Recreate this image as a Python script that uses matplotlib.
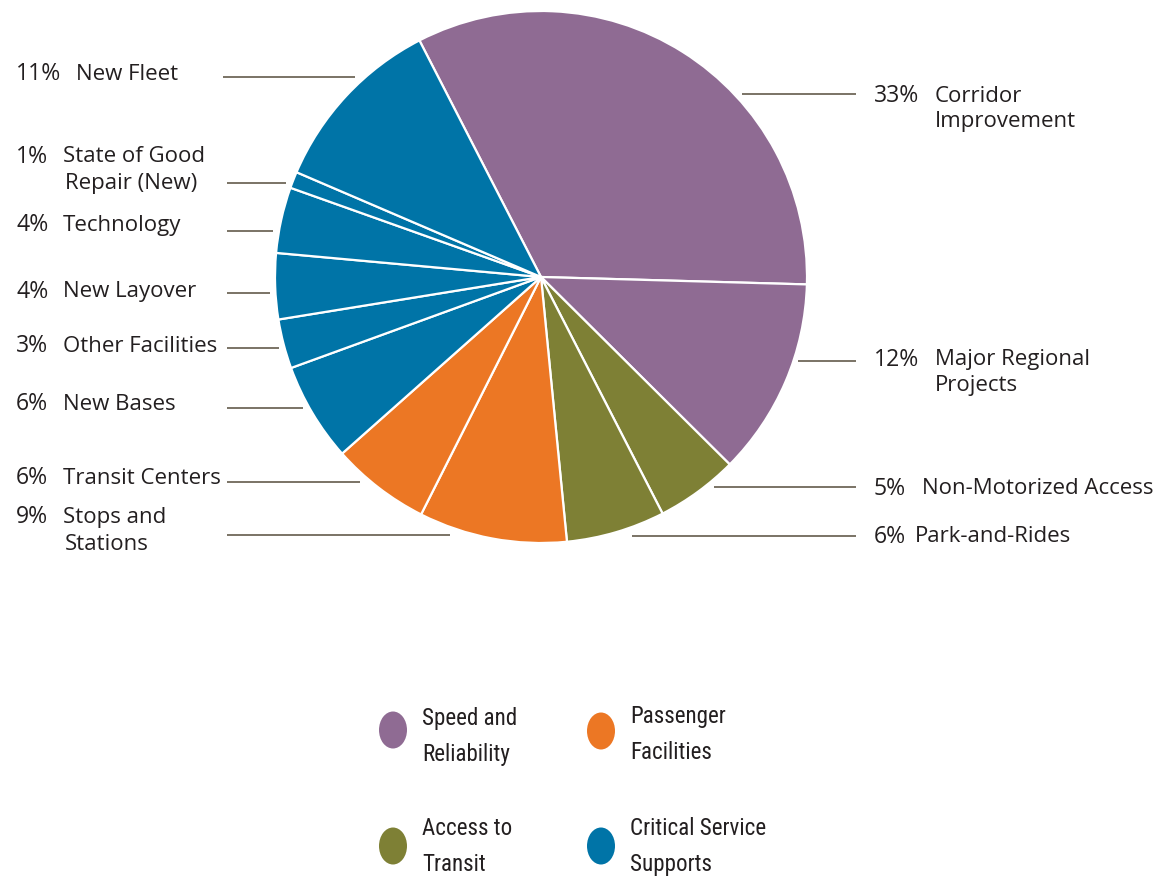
import matplotlib
matplotlib.use("Agg")
import matplotlib.pyplot as plt
from matplotlib.patches import Ellipse
from matplotlib import font_manager

# ---------------- data ----------------
categories = ["Corridor Improvement", "Major Regional Projects", "Non-Motorized Access",
              "Park-and-Rides", "Stops and Stations", "Transit Centers", "New Bases",
              "Other Facilities", "New Layover", "Technology",
              "State of Good Repair (New)", "New Fleet"]
shares = [33, 12, 5, 6, 9, 6, 6, 3, 4, 4, 1, 11]
category_group = ["Speed and Reliability", "Speed and Reliability", "Access to Transit",
                  "Access to Transit", "Passenger Facilities", "Passenger Facilities",
                  "Critical Service Supports", "Critical Service Supports",
                  "Critical Service Supports", "Critical Service Supports",
                  "Critical Service Supports", "Critical Service Supports"]
label_lines = [["Corridor", "Improvement"], ["Major Regional", "Projects"],
               ["Non-Motorized Access"], ["Park-and-Rides"], ["Stops and", "Stations"],
               ["Transit Centers"], ["New Bases"], ["Other Facilities"], ["New Layover"],
               ["Technology"], ["State of Good", "Repair (New)"], ["New Fleet"]]
groups = ["Speed and Reliability", "Passenger Facilities", "Access to Transit",
          "Critical Service Supports"]
group_lines = [["Speed and", "Reliability"], ["Passenger", "Facilities"],
               ["Access to", "Transit"], ["Critical Service", "Supports"]]

# ---------------- style ----------------
group_colors = {"Speed and Reliability": "#8f6b93",
                "Passenger Facilities": "#ec7724",
                "Access to Transit": "#7e8035",
                "Critical Service Supports": "#0074a7"}
TEXT = "#231f20"
LEAD = "#6f6859"

W, H = 1161, 879


def avail(name):
    try:
        font_manager.findfont(font_manager.FontProperties(family=name),
                              fallback_to_default=False)
        return True
    except Exception:
        return False


MAIN_FONT = "Open Sans" if avail("Open Sans") else "DejaVu Sans"

# look for a condensed / narrow face for the legend
LEG_FONT, LEG_STRETCH, LEG_SIZE = None, "normal", 16.6
for fam in ["Liberation Sans Narrow", "Roboto Condensed", "Open Sans Condensed",
            "Noto Sans Condensed", "DejaVu Sans Condensed"]:
    if avail(fam):
        LEG_FONT = fam
        break
if LEG_FONT is None:
    for fe in font_manager.fontManager.ttflist:
        if ("condensed" in fe.fname.lower() or "narrow" in fe.fname.lower()) \
                and fe.weight in (400, "normal", "regular") and fe.style == "normal":
            LEG_FONT, LEG_STRETCH = fe.name, fe.stretch
            break
if LEG_FONT is None:
    LEG_FONT, LEG_SIZE = ("Roboto" if avail("Roboto") else MAIN_FONT), 15

fig = plt.figure(figsize=(W / 100, H / 100), dpi=100)
ax = fig.add_axes([0, 0, 1, 1])


def Y(y):
    return H - y


colors = [group_colors[g] for g in category_group]
ax.pie(shares, colors=colors, center=(541, Y(278)), radius=266,
       startangle=117.2, counterclock=False, frame=True,
       wedgeprops=dict(edgecolor="white", linewidth=1.6))
ax.set_xlim(0, W)
ax.set_ylim(0, H)
ax.set_aspect("equal")
ax.axis("off")

# label layout: (pct_x, name_x, line y positions, leader y, leader x0, leader x1)
layout = {
    "Corridor Improvement": (874, 935, [96, 122], 95, 742, 856),
    "Major Regional Projects": (874, 935, [360, 385], 362, 798, 856),
    "Non-Motorized Access": (874, 922, [489], 488, 714, 856),
    "Park-and-Rides": (874, 915, [537], 537, 632, 856),
    "Stops and Stations": (16, 63, [517, 544], 536, 227, 450),
    "Transit Centers": (16, 63, [478], 483, 227, 360),
    "New Bases": (16, 63, [404], 409, 227, 303),
    "Other Facilities": (16, 63, [346], 349, 227, 279),
    "New Layover": (16, 63, [292], 294, 227, 270),
    "Technology": (16, 63, [225], 232, 227, 273),
    "State of Good Repair (New)": (16, 63, [157, 184], 184, 227, 286),
    "New Fleet": (16, 76, [74], 78, 223, 355),
}
FS = 16
for cat, val, lines in zip(categories, shares, label_lines):
    px, nx, ys, ly, x0, x1 = layout[cat]
    ax.text(px, Y(ys[0]), f"{val}%", fontsize=FS + 0.6, family=MAIN_FONT, color=TEXT,
            ha="left", va="center")
    for i, (t, yy) in enumerate(zip(lines, ys)):
        ax.text(nx + (2 if i > 0 and px < 100 else 0), Y(yy), t, fontsize=FS,
                family=MAIN_FONT, color=TEXT, ha="left", va="center")
    ax.plot([x0, x1], [Y(ly), Y(ly)], color=LEAD, lw=1.3, solid_capstyle="butt")

# legend
leg_pos = [(393, 731, 422, [719, 755]), (601, 732, 630, [717, 753]),
           (393, 847, 422, [829, 865]), (601, 847, 630, [829, 865])]
for g, lines, (cx, cy, tx, tys) in zip(groups, group_lines, leg_pos):
    ax.add_patch(Ellipse((cx, Y(cy)), 28, 37, color=group_colors[g], lw=0))
    for t, yy in zip(lines, tys):
        ax.text(tx, Y(yy), t, fontsize=LEG_SIZE, family=LEG_FONT, stretch=LEG_STRETCH,
                color=TEXT, ha="left", va="center")

fig.savefig("out.png", dpi=100, facecolor="white")
